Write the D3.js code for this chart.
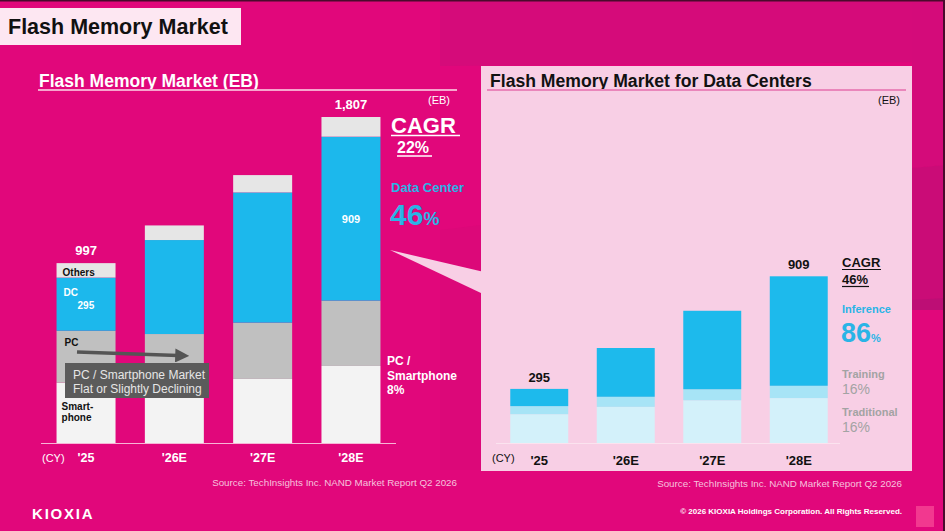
<!DOCTYPE html>
<html>
<head>
<meta charset="utf-8">
<script src="https://cdn.jsdelivr.net/npm/d3@7"></script>
<style>
	body { margin: 0; background: #e1077b; }
	svg { display: block; font-family: "Liberation Sans", Arial, sans-serif; }
</style>
</head>
<body>
<div id="vis"></div>
<script>
const width = 945;
const height = 531;

// left chart: total flash market (EB)
const years = ["'25", "'26E", "'27E", "'28E"];
const smartphone = [334, 336, 355, 427];
const pc = [288, 268, 312, 362];
const dc = [295, 521, 722, 909];
const others = [80, 81, 96, 109];
const totalLabels = ["997", null, null, "1,807"];

// right chart: data center breakdown (EB)
const traditional = [157, 197, 233, 245];
const training = [44, 55, 60, 67];
const inference = [94, 266, 428, 597];
const dcLabels = ["295", null, null, "909"];

const svg = d3.select("#vis")
	.append("svg")
	.attr("width", width)
	.attr("height", height);

// background + decorative shapes
svg.append("rect").attr("width", width).attr("height", height).attr("fill", "#e1077b");
svg.append("polygon").attr("points", "440,0 945,0 945,62 440,66").attr("fill", "#d50b7a");
svg.append("polygon").attr("points", "912,0 945,0 945,165 912,168").attr("fill", "#d40b7a");
svg.append("polygon").attr("points", "912,168 945,165 945,300 912,305").attr("fill", "#ca0c77");
svg.append("polygon").attr("points", "912,300 945,298 945,310 912,310").attr("fill", "#bd0e75");
svg.append("polygon").attr("points", "440,230 481,225 481,470 440,470").attr("fill", "#dc0879");
svg.append("rect").attr("width", width).attr("height", 1.5).attr("fill", "#4a0a2c");
svg.append("rect").attr("x", width - 2).attr("width", 2).attr("height", height).attr("fill", "#4a0a2c");

// header
svg.append("rect").attr("x", 0).attr("y", 8).attr("width", 241).attr("height", 37).attr("fill", "#fde7f2");
svg.append("text").attr("x", 8).attr("y", 34)
	.attr("font-size", 21.5).attr("font-weight", "bold").attr("fill", "#111")
	.text("Flash Memory Market");

// ---------- left chart ----------
const xL = d3.scaleBand()
	.domain(years)
	.range([41, 396])
	.paddingInner(0.332)
	.paddingOuter(0.176);

const yL = d3.scaleLinear()
	.domain([0, 1807])
	.range([443, 117]);

const leftRows = years.map((y, i) => ({year: y, smartphone: smartphone[i], pc: pc[i], dc: dc[i], others: others[i]}));
const leftStack = d3.stack().keys(["smartphone", "pc", "dc", "others"])(leftRows);
const leftColors = {smartphone: "#f3f3f3", pc: "#c0c0c0", dc: "#1cb8ec", others: "#e6e6e6"};

svg.append("text").attr("x", 39).attr("y", 87)
	.attr("font-size", 17.5).attr("font-weight", "bold").attr("fill", "#fff")
	.text("Flash Memory Market (EB)");
svg.append("line").attr("x1", 38).attr("x2", 457).attr("y1", 90).attr("y2", 90)
	.attr("stroke", "#f6a6cd").attr("stroke-width", 2);

svg.append("g")
	.selectAll("g")
	.data(leftStack)
	.enter()
	.append("g")
		.attr("fill", d => leftColors[d.key])
		.selectAll("rect")
		.data(d => d)
		.enter()
		.append("rect")
			.attr("x", d => xL(d.data.year))
			.attr("y", d => yL(d[1]))
			.attr("width", xL.bandwidth())
			.attr("height", d => yL(d[0]) - yL(d[1]));

svg.append("line").attr("x1", 41).attr("x2", 396).attr("y1", 443.5).attr("y2", 443.5)
	.attr("stroke", "#f7b5d6").attr("stroke-width", 1);

svg.append("g")
	.selectAll("text")
	.data(years)
	.enter()
	.append("text")
		.attr("x", d => xL(d) + xL.bandwidth() / 2)
		.attr("y", 462)
		.attr("text-anchor", "middle")
		.attr("font-size", 12.5).attr("font-weight", "bold").attr("fill", "#fff")
		.text(d => d);
svg.append("text").attr("x", 42).attr("y", 462)
	.attr("font-size", 11).attr("fill", "#fff").text("(CY)");

svg.append("g")
	.selectAll("text")
	.data(years.map((y, i) => ({year: y, label: totalLabels[i], total: smartphone[i] + pc[i] + dc[i] + others[i]})).filter(d => d.label))
	.enter()
	.append("text")
		.attr("x", d => xL(d.year) + xL.bandwidth() / 2)
		.attr("y", d => yL(d.total) - 8)
		.attr("text-anchor", "middle")
		.attr("font-size", 13).attr("font-weight", "bold").attr("fill", "#fff")
		.text(d => d.label);

// segment labels on '25 bar
const b0 = xL(years[0]);
const segLabel = (x, y, txt, fill) => svg.append("text").attr("x", x).attr("y", y)
	.attr("font-size", 10).attr("font-weight", "bold").attr("fill", fill).text(txt);
segLabel(b0 + 6, 276, "Others", "#111");
segLabel(b0 + 7, 296, "DC", "#fff");
segLabel(b0 + 21, 309, "295", "#fff");
segLabel(b0 + 8, 346, "PC", "#111");
segLabel(b0 + 5, 410, "Smart-", "#111");
segLabel(b0 + 5, 421, "phone", "#111");

// 909 label inside '28E DC
svg.append("text")
	.attr("x", xL(years[3]) + xL.bandwidth() / 2)
	.attr("y", (yL(smartphone[3] + pc[3]) + yL(smartphone[3] + pc[3] + dc[3])) / 2 + 4)
	.attr("text-anchor", "middle")
	.attr("font-size", 11).attr("font-weight", "bold").attr("fill", "#fff")
	.text(dc[3]);

// arrow + note
svg.append("defs").append("marker")
	.attr("id", "arr").attr("viewBox", "0 0 10 10").attr("refX", 2).attr("refY", 5)
	.attr("markerWidth", 4).attr("markerHeight", 4).attr("orient", "auto")
	.append("path").attr("d", "M0,0L10,5L0,10z").attr("fill", "#555");
svg.append("line").attr("x1", 77).attr("y1", 352).attr("x2", 178).attr("y2", 355.5)
	.attr("stroke", "#555").attr("stroke-width", 3.5).attr("marker-end", "url(#arr)");
svg.append("rect").attr("x", 65).attr("y", 363).attr("width", 144).attr("height", 35).attr("fill", "#5b5b5b");
svg.append("text").attr("x", 73).attr("y", 379)
	.attr("font-size", 12).attr("fill", "#e6e6e6").text("PC / Smartphone Market");
svg.append("text").attr("x", 73).attr("y", 393)
	.attr("font-size", 12).attr("fill", "#e6e6e6").text("Flat or Slightly Declining");

// CAGR block left
svg.append("text").attr("x", 428).attr("y", 104).attr("font-size", 11).attr("fill", "#fff").text("(EB)");
svg.append("text").attr("x", 391).attr("y", 133)
	.attr("font-size", 22).attr("font-weight", "bold").attr("fill", "#fff").text("CAGR");
svg.append("line").attr("x1", 391).attr("x2", 460).attr("y1", 135.5).attr("y2", 135.5).attr("stroke", "#fff").attr("stroke-width", 1.5);
svg.append("text").attr("x", 397).attr("y", 153)
	.attr("font-size", 16).attr("font-weight", "bold").attr("fill", "#fff").text("22%");
svg.append("line").attr("x1", 397).attr("x2", 432).attr("y1", 156).attr("y2", 156).attr("stroke", "#fff").attr("stroke-width", 1.5);
svg.append("text").attr("x", 391).attr("y", 192)
	.attr("font-size", 13).attr("font-weight", "bold").attr("fill", "#2ab4e6").text("Data Center");
const t46 = svg.append("text").attr("x", 390).attr("y", 225)
	.attr("font-weight", "bold").attr("fill", "#2ab4e6");
t46.append("tspan").attr("font-size", 30).text("46");
t46.append("tspan").attr("font-size", 18).text("%");

svg.append("text").attr("x", 387).attr("y", 365).attr("font-size", 12).attr("font-weight", "bold").attr("fill", "#fff").text("PC /");
svg.append("text").attr("x", 387).attr("y", 380).attr("font-size", 12).attr("font-weight", "bold").attr("fill", "#fff").text("Smartphone");
svg.append("text").attr("x", 387).attr("y", 394).attr("font-size", 12).attr("font-weight", "bold").attr("fill", "#fff").text("8%");

svg.append("text").attr("x", 457).attr("y", 486).attr("text-anchor", "end")
	.attr("font-size", 9.8).attr("fill", "#f6c2dd")
	.text("Source: TechInsights Inc. NAND Market Report Q2 2026");

// ---------- right chart ----------
svg.append("polygon").attr("points", "390,250 482,271.5 482,293.5").attr("fill", "#f8cfe5");
svg.append("rect").attr("x", 481).attr("y", 66).attr("width", 431).attr("height", 405).attr("fill", "#f8cfe5");

svg.append("text").attr("x", 490).attr("y", 87)
	.attr("font-size", 17.6).attr("font-weight", "bold").attr("fill", "#111")
	.text("Flash Memory Market for Data Centers");
svg.append("line").attr("x1", 487).attr("x2", 906).attr("y1", 90).attr("y2", 90)
	.attr("stroke", "#ea86bb").attr("stroke-width", 2);
svg.append("text").attr("x", 900).attr("y", 104).attr("text-anchor", "end")
	.attr("font-size", 11).attr("fill", "#111").text("(EB)");

const xR = d3.scaleBand()
	.domain(years)
	.range([496, 842])
	.paddingInner(0.33)
	.paddingOuter(0.165);

const yR = d3.scaleLinear()
	.domain([0, 909])
	.range([443, 276.3]);

const rightRows = years.map((y, i) => ({year: y, traditional: traditional[i], training: training[i], inference: inference[i]}));
const rightStack = d3.stack().keys(["traditional", "training", "inference"])(rightRows);
const rightColors = {traditional: "#d3f1fa", training: "#a7e4f6", inference: "#1dbaec"};

svg.append("g")
	.selectAll("g")
	.data(rightStack)
	.enter()
	.append("g")
		.attr("fill", d => rightColors[d.key])
		.selectAll("rect")
		.data(d => d)
		.enter()
		.append("rect")
			.attr("x", d => xR(d.data.year))
			.attr("y", d => yR(d[1]))
			.attr("width", xR.bandwidth())
			.attr("height", d => yR(d[0]) - yR(d[1]));

svg.append("line").attr("x1", 496).attr("x2", 840).attr("y1", 443.5).attr("y2", 443.5)
	.attr("stroke", "#fbe3ef").attr("stroke-width", 1);

svg.append("g")
	.selectAll("text")
	.data(years)
	.enter()
	.append("text")
		.attr("x", d => xR(d) + xR.bandwidth() / 2)
		.attr("y", 465)
		.attr("text-anchor", "middle")
		.attr("font-size", 13).attr("font-weight", "bold").attr("fill", "#111")
		.text(d => d);
svg.append("text").attr("x", 492).attr("y", 462)
	.attr("font-size", 11).attr("fill", "#111").text("(CY)");

svg.append("g")
	.selectAll("text")
	.data(years.map((y, i) => ({year: y, label: dcLabels[i], total: traditional[i] + training[i] + inference[i]})).filter(d => d.label))
	.enter()
	.append("text")
		.attr("x", d => xR(d.year) + xR.bandwidth() / 2)
		.attr("y", d => yR(d.total) - 7)
		.attr("text-anchor", "middle")
		.attr("font-size", 13).attr("font-weight", "bold").attr("fill", "#111")
		.text(d => d.label);

svg.append("text").attr("x", 842).attr("y", 267).attr("font-size", 13).attr("font-weight", "bold").attr("fill", "#111").text("CAGR");
svg.append("line").attr("x1", 842).attr("x2", 881).attr("y1", 269.5).attr("y2", 269.5).attr("stroke", "#111").attr("stroke-width", 1.2);
svg.append("text").attr("x", 842).attr("y", 284).attr("font-size", 13).attr("font-weight", "bold").attr("fill", "#111").text("46%");
svg.append("line").attr("x1", 842).attr("x2", 869).attr("y1", 286.5).attr("y2", 286.5).attr("stroke", "#111").attr("stroke-width", 1.2);
svg.append("text").attr("x", 842).attr("y", 313).attr("font-size", 11).attr("font-weight", "bold").attr("fill", "#2ab4e6").text("Inference");
const t86 = svg.append("text").attr("x", 841).attr("y", 342).attr("font-weight", "bold").attr("fill", "#2ab4e6");
t86.append("tspan").attr("font-size", 27).text("86");
t86.append("tspan").attr("font-size", 11).text("%");
svg.append("text").attr("x", 842).attr("y", 378).attr("font-size", 11).attr("font-weight", "bold").attr("fill", "#a3a3a3").text("Training");
svg.append("text").attr("x", 842).attr("y", 394).attr("font-size", 14).attr("fill", "#a3a3a3").text("16%");
svg.append("text").attr("x", 842).attr("y", 416).attr("font-size", 11).attr("font-weight", "bold").attr("fill", "#a3a3a3").text("Traditional");
svg.append("text").attr("x", 842).attr("y", 432).attr("font-size", 14).attr("fill", "#a3a3a3").text("16%");

svg.append("text").attr("x", 902).attr("y", 487).attr("text-anchor", "end")
	.attr("font-size", 9.8).attr("fill", "#f6c2dd")
	.text("Source: TechInsights Inc. NAND Market Report Q2 2026");

// footer
svg.append("text").attr("x", 32).attr("y", 519)
	.attr("font-size", 15).attr("font-weight", "900").attr("fill", "#fff")
	.attr("letter-spacing", 1.8)
	.text("KIOXIA");
svg.append("text").attr("x", 902).attr("y", 514).attr("text-anchor", "end")
	.attr("font-size", 8).attr("font-weight", "bold").attr("fill", "#fff")
	.text("© 2026 KIOXIA Holdings Corporation. All Rights Reserved.");
svg.append("rect").attr("x", 916).attr("y", 506).attr("width", 18).attr("height", 21).attr("fill", "#f2388f");
</script>
</body>
</html>
